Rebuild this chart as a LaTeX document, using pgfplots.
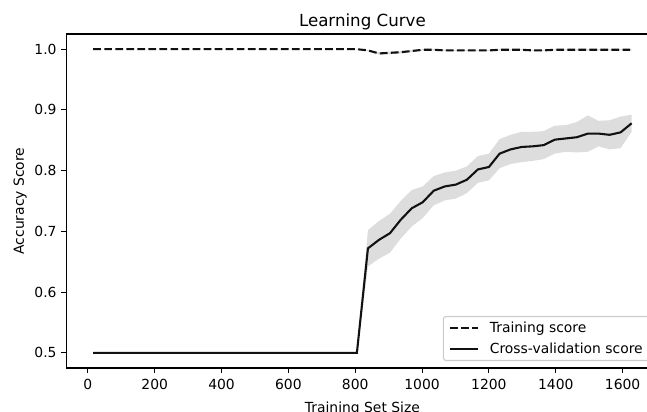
\documentclass[border=0pt]{standalone}
\usepackage{fontspec}
\setmainfont{DejaVu Sans}
\usepackage{pgfplots}
\pgfplotsset{compat=1.18}
\usepackage{pgfplotstable}
\usepgfplotslibrary{fillbetween}
\definecolor{curve}{HTML}{111111}
\definecolor{band}{HTML}{DDDDDD}
\pgfplotstableread{
x tr trs cv cvs
16 1.000 0 0.5 0
48 1.000 0 0.5 0
81 1.000 0 0.5 0
114 1.000 0 0.5 0
147 1.000 0 0.5 0
180 1.000 0 0.5 0
213 1.000 0 0.5 0
246 1.000 0 0.5 0
279 1.000 0 0.5 0
312 1.000 0 0.5 0
344 1.000 0 0.5 0
377 1.000 0 0.5 0
410 1.000 0 0.5 0
443 1.000 0 0.5 0
476 1.000 0 0.5 0
509 1.000 0 0.5 0
542 1.000 0 0.5 0
575 1.000 0 0.5 0
608 1.000 0 0.5 0
640 1.000 0 0.5 0
673 1.000 0 0.5 0
706 1.000 0 0.5 0
739 1.000 0 0.5 0
772 1.000 0 0.5 0
805 1.000 0 0.5 0
838 0.998 0.001 0.672 0.030
871 0.993 0.002 0.686 0.031
904 0.994 0.002 0.697 0.032
936 0.995 0.002 0.719 0.031
969 0.997 0.002 0.738 0.030
1002 0.999 0.001 0.748 0.026
1035 0.999 0.001 0.767 0.024
1068 0.998 0.001 0.774 0.023
1101 0.998 0.001 0.777 0.023
1134 0.998 0.001 0.785 0.022
1167 0.998 0.001 0.802 0.022
1200 0.998 0.001 0.806 0.022
1232 0.999 0.001 0.828 0.024
1265 0.999 0.001 0.835 0.024
1298 0.999 0.001 0.839 0.025
1331 0.998 0.001 0.840 0.024
1364 0.998 0.001 0.842 0.023
1397 0.999 0.001 0.851 0.023
1430 0.999 0.001 0.853 0.022
1463 0.999 0.001 0.855 0.025
1496 0.999 0.001 0.861 0.030
1528 0.999 0.001 0.861 0.021
1561 0.999 0.001 0.859 0.024
1594 0.999 0.001 0.863 0.026
1627 0.999 0.001 0.878 0.014
}\lcdata
\begin{document}
\begin{tikzpicture}
\begin{axis}[
  scale only axis, width=426.4pt, height=240.48pt,
  xmin=-64.5, xmax=1707.5, ymin=0.475, ymax=1.025,
  axis line style={black, line width=0.8pt},
  tick style={black, line width=0.8pt},
  tick align=outside, major tick length=3.5pt,
  xtick pos=bottom, ytick pos=left,
  xtick={0,200,400,600,800,1000,1200,1400,1600},
  ytick={0.5,0.6,0.7,0.8,0.9,1.0},
  /pgf/number format/assume math mode=true,
  tick label style={font=\fontsize{10}{12}\selectfont, black},
  xticklabel style={/pgf/number format/1000 sep={}, yshift=-1pt},
  yticklabel style={/pgf/number format/.cd, fixed, fixed zerofill, precision=1},
  title={Learning Curve},
  title style={font=\fontsize{12}{14}\selectfont, at={(axis description cs:0.5,1)}, anchor=base, yshift=-0.7pt, inner sep=0pt},
  xlabel={Training Set Size},
  xlabel style={font=\fontsize{10}{12}\selectfont, at={(axis description cs:0.5,0)}, anchor=north, yshift=-24pt, inner sep=0pt},
  ylabel={Accuracy Score},
  ylabel style={font=\fontsize{10}{12}\selectfont, at={(axis description cs:-0.078,0.5)}, anchor=center, inner sep=0pt},
  legend style={at={(axis description cs:1,0)}, anchor=south east, xshift=-5pt, yshift=5pt,
    draw=black!20, line width=0.8pt, rounded corners=2pt, fill=white, fill opacity=0.8, text opacity=1, draw opacity=1,
    inner xsep=4pt, inner ysep=1.75pt, font=\fontsize{10}{12}\selectfont, row sep=2pt, column sep=6pt},
  legend cell align=left,
  legend image code/.code={\draw[#1] (0pt,0pt) -- (20pt,0pt);},
]
\addplot[name path=trU, draw=none, forget plot] table[x=x, y expr=\thisrow{tr}+\thisrow{trs}] {\lcdata};
\addplot[name path=trL, draw=none, forget plot] table[x=x, y expr=\thisrow{tr}-\thisrow{trs}] {\lcdata};
\addplot[band, draw=none, forget plot] fill between[of=trU and trL];
\addplot[name path=cvU, draw=none, forget plot] table[x=x, y expr=\thisrow{cv}+\thisrow{cvs}] {\lcdata};
\addplot[name path=cvL, draw=none, forget plot] table[x=x, y expr=\thisrow{cv}-\thisrow{cvs}] {\lcdata};
\addplot[band, draw=none, forget plot] fill between[of=cvU and cvL];
\addplot[curve, line width=1.5pt, dash pattern=on 5.55pt off 2.4pt] table[x=x, y=tr] {\lcdata};
\addlegendentry{Training score}
\addplot[curve, line width=1.5pt] table[x=x, y=cv] {\lcdata};
\addlegendentry{Cross-validation score}
\end{axis}
\pgfresetboundingbox
\useasboundingbox (-47.74pt,-31.68pt) rectangle (418.1pt,264.96pt);
\end{tikzpicture}
\end{document}
